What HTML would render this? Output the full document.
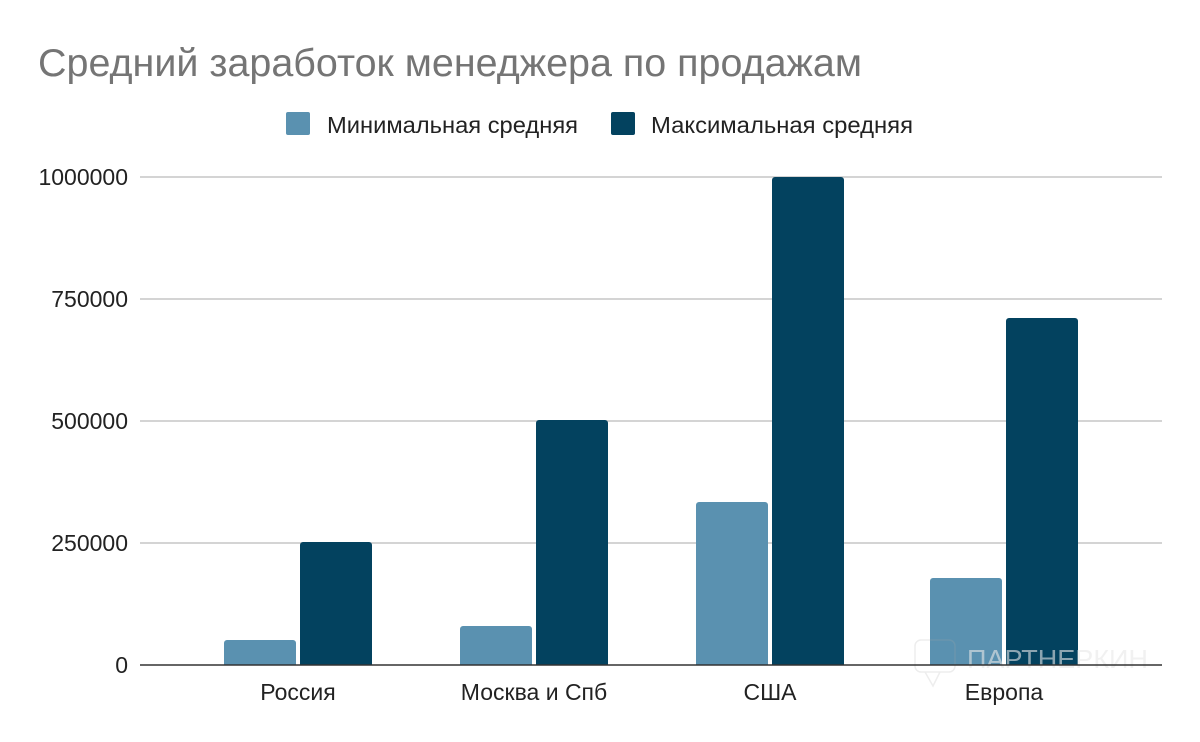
<!DOCTYPE html>
<html><head><meta charset="utf-8"><style>
html,body{margin:0;padding:0;background:#fff;}
svg{display:block;font-family:"Liberation Sans","DejaVu Sans",sans-serif;}
</style></head><body>
<svg width="1200" height="742" viewBox="0 0 1200 742" xmlns="http://www.w3.org/2000/svg">
<rect width="1200" height="742" fill="#fff"/>
<text x="38" y="76" font-size="39" fill="#757575" textLength="824" lengthAdjust="spacingAndGlyphs">Средний заработок менеджера по продажам</text>
<rect x="286" y="112" width="24" height="23" rx="2" fill="#5a91b0"/>
<text x="327" y="133" font-size="23" fill="#222" textLength="251" lengthAdjust="spacingAndGlyphs">Минимальная средняя</text>
<rect x="611" y="112" width="24" height="23" rx="2" fill="#03425f"/>
<text x="651" y="133" font-size="23" fill="#222" textLength="262" lengthAdjust="spacingAndGlyphs">Максимальная средняя</text>
<g stroke="#c6c6c6" stroke-width="1.5">
<line x1="140" y1="177" x2="1162" y2="177"/>
<line x1="140" y1="299" x2="1162" y2="299"/>
<line x1="140" y1="421" x2="1162" y2="421"/>
<line x1="140" y1="543" x2="1162" y2="543"/>
</g>
<g font-size="23" fill="#222" text-anchor="end">
<text x="128" y="185">1000000</text>
<text x="128" y="307">750000</text>
<text x="128" y="429">500000</text>
<text x="128" y="551">250000</text>
<text x="128" y="673">0</text>
</g>
<g fill="#5a91b0">
<path d="M224 665V643a3 3 0 0 1 3-3h66a3 3 0 0 1 3 3V665z"/>
<path d="M460 665V629a3 3 0 0 1 3-3h66a3 3 0 0 1 3 3V665z"/>
<path d="M696 665V505a3 3 0 0 1 3-3h66a3 3 0 0 1 3 3V665z"/>
<path d="M930 665V581a3 3 0 0 1 3-3h66a3 3 0 0 1 3 3V665z"/>
</g>
<g fill="#03425f">
<path d="M300 665V545a3 3 0 0 1 3-3h66a3 3 0 0 1 3 3V665z"/>
<path d="M536 665V423a3 3 0 0 1 3-3h66a3 3 0 0 1 3 3V665z"/>
<path d="M772 665V180a3 3 0 0 1 3-3h66a3 3 0 0 1 3 3V665z"/>
<path d="M1006 665V321a3 3 0 0 1 3-3h66a3 3 0 0 1 3 3V665z"/>
</g>
<g opacity="0.2" fill="none" stroke="#aaa" stroke-width="1.5">
<rect x="915" y="640" width="40" height="32" rx="6"/>
<path d="M925 672 L933 686 L940 672"/>
</g>
<text x="967" y="668" font-size="26" fill="#e8e8e8" opacity="0.6" textLength="181" lengthAdjust="spacingAndGlyphs">ПАРТНЕРКИН</text>
<line x1="140" y1="665" x2="1162" y2="665" stroke="#333" stroke-width="1.5"/>
<g font-size="23" fill="#222" text-anchor="middle">
<text x="298" y="700">Россия</text>
<text x="534" y="700">Москва и Спб</text>
<text x="770" y="700">США</text>
<text x="1004" y="700">Европа</text>
</g>
</svg>
</body></html>
